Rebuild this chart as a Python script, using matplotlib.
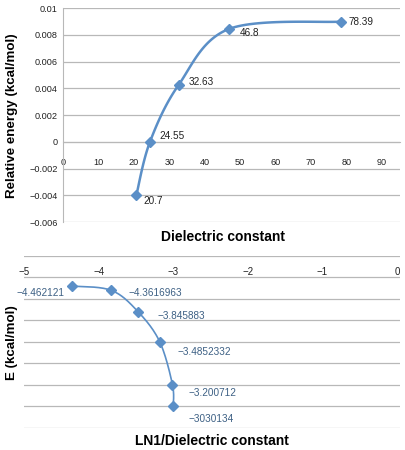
import numpy as np
import matplotlib
matplotlib.use('Agg')
import matplotlib.pyplot as plt

plt.rcParams['font.family'] = ['Liberation Sans', 'DejaVu Sans']
plt.rcParams['axes.unicode_minus'] = True

# top chart: relative energy vs dielectric constant
eps = [20.7, 24.55, 32.63, 46.8, 78.39]
rel_energy = [-0.004, 0.0, 0.00425, 0.00843, 0.00898]
eps_labels = ['20.7', '24.55', '32.63', '46.8', '78.39']

# bottom chart: E vs LN(1/eps)
ln_eps = [-4.36, -3.83, -3.47, -3.18, -3.01, -3.00]
e_vals = [-1.40, -1.60, -2.60, -4.00, -6.00, -7.00]
ln_labels = ['\u22124.462121', '\u22124.3616963', '\u22123.845883',
             '\u22123.4852332', '\u22123.200712', '\u22123030134']

line_col = '#5b8fc7'
grid_col = '#b8b8b8'


def smooth(xs, ys, xr, yr, n=30):
    # catmull-rom in normalised axes space, like excel's smoothed line
    px = (np.asarray(xs) - xr[0]) / (xr[1] - xr[0])
    py = (np.asarray(ys) - yr[0]) / (yr[1] - yr[0])
    p = np.column_stack([px, py])
    p = np.vstack([p[0], p, p[-1]])
    out = []
    for i in range(1, len(p) - 2):
        p0, p1, p2, p3 = p[i - 1], p[i], p[i + 1], p[i + 2]
        t = np.linspace(0, 1, n)[:, None]
        seg = 0.5 * ((2 * p1) + (-p0 + p2) * t + (2 * p0 - 5 * p1 + 4 * p2 - p3) * t ** 2
                     + (-p0 + 3 * p1 - 3 * p2 + p3) * t ** 3)
        out.append(seg)
    out = np.vstack(out)
    return out[:, 0] * (xr[1] - xr[0]) + xr[0], out[:, 1] * (yr[1] - yr[0]) + yr[0]


fig = plt.figure(figsize=(4.05, 4.5), dpi=100)

# ---- top
ax1 = fig.add_axes([63 / 405, 1 - 222 / 450, 337 / 405, 214 / 450])
xr1 = (0, 95.1)
yr1 = (-0.006, 0.01)
ax1.set_xlim(*xr1)
ax1.set_ylim(*yr1)
ax1.set_xticks(np.arange(0, 91, 10))
ax1.set_yticks(np.arange(-0.006, 0.0101, 0.002))
ax1.set_yticklabels(['\u22120.006', '\u22120.004', '\u22120.002', '0', '0.002',
                     '0.004', '0.006', '0.008', '0.01'])
ax1.yaxis.grid(True, color=grid_col, lw=0.9)
for s in ['top', 'right']:
    ax1.spines[s].set_visible(False)
ax1.spines['left'].set_color(grid_col)
ax1.spines['bottom'].set_position(('data', 0))
ax1.spines['bottom'].set_color(grid_col)
ax1.tick_params(axis='both', length=0, labelsize=6.6, colors='#222222')
ax1.tick_params(axis='x', pad=12)
ax1.tick_params(axis='y', pad=4)

sx, sy = smooth(eps, rel_energy, xr1, yr1)
ax1.plot(sx, sy, color=line_col, lw=1.8, zorder=3)
ax1.plot(eps, rel_energy, ls='none', marker='D', ms=5, color=line_col, zorder=4)
offs1 = [(7, -6), (9, 6), (10, 3), (11, -4), (8, 0)]
for x, y, t, o in zip(eps, rel_energy, eps_labels, offs1):
    ax1.annotate(t, (x, y), xytext=o, textcoords='offset pixels', fontsize=7.2,
                 color='#222222', ha='left', va='center')

ax1.set_ylabel('Relative energy (kcal/mol)', fontsize=9.6, fontweight='bold')
ax1.yaxis.set_label_coords(-0.134, 0.495)
ax1.set_xlabel('Dielectric constant', fontsize=10, fontweight='bold')
ax1.xaxis.set_label_coords(0.476, -0.037)

# ---- bottom
ax2 = fig.add_axes([24 / 405, 1 - 427.7 / 450, 376 / 405, 171.7 / 450])
xr2 = (-5, 0.04)
yr2 = (-8, 0)
ax2.set_xlim(*xr2)
ax2.set_ylim(*yr2)
ax2.set_xticks(np.arange(-5, 0.1, 1))
ax2.set_yticks(np.arange(-8, 0.1, 1))
ax2.set_yticklabels([])
ax2.yaxis.grid(True, color=grid_col, lw=0.9)
for s in ax2.spines.values():
    s.set_visible(False)
ax2.xaxis.tick_top()
ax2.tick_params(axis='both', length=0, labelsize=7, colors='#222222')
ax2.tick_params(axis='x', pad=-15)

sx, sy = smooth(ln_eps, e_vals, xr2, yr2)
ax2.plot(sx, sy, color=line_col, lw=1.2, zorder=3)
ax2.plot(ln_eps, e_vals, ls='none', marker='D', ms=5, color=line_col, zorder=4)
offs2 = [(-7, -7), (17, -3), (19, -4), (18, -10), (16, -8), (15, -13)]
for i, (x, y, t, o) in enumerate(zip(ln_eps, e_vals, ln_labels, offs2)):
    ax2.annotate(t, (x, y), xytext=o, textcoords='offset pixels', fontsize=7.2,
                 color='#3d6084', ha='right' if i == 0 else 'left', va='center')

ax2.set_ylabel('E (kcal/mol)', fontsize=9.6, fontweight='bold')
ax2.yaxis.set_label_coords(-0.016, 0.493)
ax2.set_xlabel('LN1/Dielectric constant', fontsize=10, fontweight='bold')
ax2.xaxis.set_label_coords(0.5, -0.037)

fig.savefig('out.png', dpi=100)
